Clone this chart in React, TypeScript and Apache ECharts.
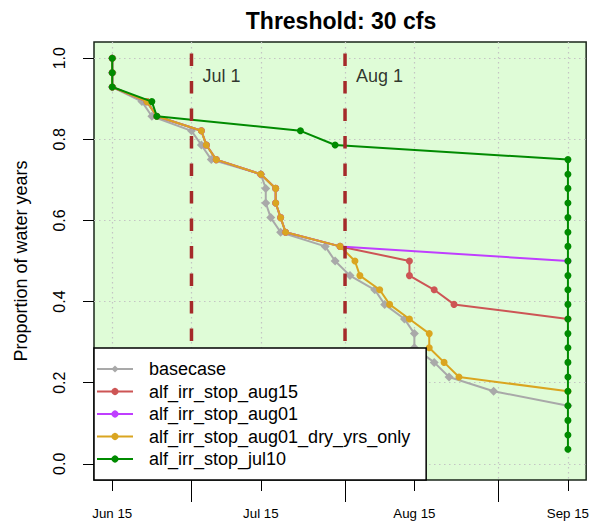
import React, { useEffect, useRef } from "react";
import * as echarts from "echarts";

// ---- data (dates, proportions of 28 water years) ----
const MONTH_START: Record<string, number> = { Jun: -14, Jul: 16, Aug: 47, Sep: 78 };
// days since Jun 15
function dayOf(label: string): number {
  const [m, d] = label.split(" ");
  return MONTH_START[m] + Number(d) - 1;
}

const xLimits = ["Jun 15", "Sep 15"];
const xLabelTicks = ["Jun 15", "Jul 15", "Aug 15", "Sep 15"];
const xMonthTicks = ["Jul 1", "Aug 1", "Sep 1"];
const yTicks = [0, 0.2, 0.4, 0.6, 0.8, 1.0];

const seriesNames = [
  "basecase",
  "alf_irr_stop_aug15",
  "alf_irr_stop_aug01",
  "alf_irr_stop_aug01_dry_yrs_only",
  "alf_irr_stop_jul10",
];
const seriesColors = ["#A9A9A9", "#CD5555", "#BF3EFF", "#DAA520", "#008B00"];
const seriesSymbols = ["diamond", "circle", "circle", "circle", "circle"];

const basecaseDates = ["Jun 15", "Jun 15", "Jun 15", "Jun 21", "Jun 23", "Jul 1", "Jul 3", "Jul 5", "Jul 15", "Jul 16", "Jul 16", "Jul 17", "Jul 19", "Jul 28", "Jul 30", "Aug 2", "Aug 7", "Aug 9", "Aug 13", "Aug 15", "Aug 15", "Aug 19", "Aug 22", "Aug 31", "Sep 15"];
const basecaseProp = [1.0, 0.964, 0.929, 0.893, 0.857, 0.821, 0.786, 0.75, 0.714, 0.679, 0.643, 0.607, 0.571, 0.536, 0.5, 0.464, 0.429, 0.393, 0.357, 0.321, 0.286, 0.25, 0.214, 0.179, 0.143];

const aug15Dates = ["Jun 15", "Jun 15", "Jun 15", "Jun 22", "Jun 24", "Jul 3", "Jul 4", "Jul 6", "Jul 15", "Jul 18", "Jul 18", "Jul 19", "Jul 20", "Jul 31", "Aug 14", "Aug 14", "Aug 19", "Aug 23", "Sep 15"];
const aug15Prop = [1.0, 0.964, 0.929, 0.893, 0.857, 0.821, 0.786, 0.75, 0.714, 0.679, 0.643, 0.607, 0.571, 0.536, 0.5, 0.464, 0.429, 0.393, 0.357];

const aug01Dates = ["Jun 15", "Jun 15", "Jun 15", "Jun 22", "Jun 24", "Jul 3", "Jul 4", "Jul 6", "Jul 15", "Jul 18", "Jul 18", "Jul 19", "Jul 20", "Jul 31", "Sep 15"];
const aug01Prop = [1.0, 0.964, 0.929, 0.893, 0.857, 0.821, 0.786, 0.75, 0.714, 0.679, 0.643, 0.607, 0.571, 0.536, 0.5];

const dryDates = ["Jun 15", "Jun 15", "Jun 15", "Jun 22", "Jun 24", "Jul 3", "Jul 4", "Jul 6", "Jul 15", "Jul 18", "Jul 18", "Jul 19", "Jul 20", "Jul 31", "Aug 3", "Aug 4", "Aug 8", "Aug 10", "Aug 14", "Aug 18", "Aug 18", "Aug 21", "Aug 24", "Sep 15"];
const dryProp = [1.0, 0.964, 0.929, 0.893, 0.857, 0.821, 0.786, 0.75, 0.714, 0.679, 0.643, 0.607, 0.571, 0.536, 0.5, 0.464, 0.429, 0.393, 0.357, 0.321, 0.286, 0.25, 0.214, 0.179];

const jul10Dates = ["Jun 15", "Jun 15", "Jun 15", "Jun 23", "Jun 24", "Jul 23", "Jul 30", "Sep 15", "Sep 15", "Sep 15", "Sep 15", "Sep 15", "Sep 15", "Sep 15", "Sep 15", "Sep 15", "Sep 15", "Sep 15", "Sep 15", "Sep 15", "Sep 15", "Sep 15", "Sep 15", "Sep 15", "Sep 15", "Sep 15", "Sep 15", "Sep 15"];
const jul10Prop = [1.0, 0.964, 0.929, 0.893, 0.857, 0.821, 0.786, 0.75, 0.714, 0.679, 0.643, 0.607, 0.571, 0.536, 0.5, 0.464, 0.429, 0.393, 0.357, 0.321, 0.286, 0.25, 0.214, 0.179, 0.143, 0.107, 0.071, 0.036];

const markerDates = ["Jul 1", "Aug 1"];
const markerLabels = ["Jul 1", "Aug 1"];
const markerLabelY = 0.955;

const allDates = [basecaseDates, aug15Dates, aug01Dates, dryDates, jul10Dates];
const allProps = [basecaseProp, aug15Prop, aug01Prop, dryProp, jul10Prop];

const FONT = "'Liberation Sans', Arial, Helvetica, sans-serif";

export default function App() {
  const ref = useRef<HTMLDivElement>(null);

  useEffect(() => {
    if (!ref.current) return;
    const chart = echarts.init(ref.current, undefined, { renderer: "svg" });

    const lo = dayOf(xLimits[0]);
    const hi = dayOf(xLimits[1]);
    const pad = (hi - lo) * 0.04;
    const xMin = lo - pad;
    const xMax = hi + pad;
    const labelDays = xLabelTicks.map(dayOf);
    const monthDays = xMonthTicks.map(dayOf);
    const gridDays = [...labelDays, ...monthDays].sort((a, b) => a - b);

    const dataSeries: any[] = seriesNames.map((name, i) => ({
      name,
      type: "line",
      data: allDates[i].map((d, k) => [dayOf(d), allProps[i][k]]),
      symbol: seriesSymbols[i],
      symbolSize: i === 0 ? 9 : 7,
      showSymbol: true,
      lineStyle: { color: seriesColors[i], width: 2 },
      itemStyle: { color: seriesColors[i] },
      z: 2 + i,
    }));

    const dashSeries: any[] = markerDates.map((d) => ({
      type: "line",
      data: [
        [dayOf(d), 1.04],
        [dayOf(d), -0.04],
      ],
      symbol: "none",
      silent: true,
      lineStyle: { color: "#A52A2A", width: 3.5, type: [12.5, 15], dashOffset: 16 },
      z: 10,
    }));

    const labelSeries = {
      type: "scatter",
      data: markerDates.map((d, i) => [dayOf(d), markerLabelY, markerLabels[i]]),
      symbolSize: 0,
      silent: true,
      label: {
        show: true,
        position: "right",
        distance: 11,
        formatter: (p: any) => p.data[2],
        color: "#000",
        fontSize: 18,
        fontFamily: FONT,
      },
      z: 11,
    };

    const option: any = {
      animation: false,
      textStyle: { fontFamily: FONT },
      graphic: [
        {
          type: "text",
          x: 341,
          y: 21,
          style: {
            text: "Threshold: 30 cfs",
            fontSize: 23,
            fontWeight: "bold",
            fontFamily: FONT,
            fill: "#000",
            align: "center",
            verticalAlign: "middle",
          },
        },
      ],
      grid: {
        left: 94,
        right: 5,
        top: 42,
        bottom: 45,
        show: true,
        backgroundColor: "#dffcd7",
        borderColor: "#1a261a",
        borderWidth: 1.5,
      },
      legend: {
        data: seriesNames,
        orient: "vertical",
        left: 94,
        top: 348,
        padding: [12, 16, 12, 2],
        itemWidth: 36,
        itemHeight: 9,
        itemGap: 4.5,
        selectedMode: false,
        backgroundColor: "#ffffff",
        borderColor: "#000000",
        borderWidth: 1.5,
        borderRadius: 0,
        textStyle: {
          fontSize: 18,
          lineHeight: 18,
          color: "#000",
          fontFamily: FONT,
          padding: [0, 0, 0, 11],
        },
        z: 20,
      },
      xAxis: [
        {
          type: "value",
          position: "bottom",
          min: xMin,
          max: xMax,
          axisLine: { show: false, onZero: false },
          axisTick: { show: true, customValues: labelDays, length: 11, lineStyle: { color: "#000", width: 1 } },
          axisLabel: {
            show: true,
            customValues: labelDays,
            formatter: (v: number) => xLabelTicks[labelDays.indexOf(v)] ?? "",
            fontSize: 13.3,
            color: "#000",
            margin: 27,
            fontFamily: FONT,
          },
          splitLine: { show: false },
        },
        {
          type: "value",
          position: "bottom",
          min: xMin,
          max: xMax,
          axisLine: { show: false, onZero: false },
          axisTick: { show: true, customValues: monthDays, length: 22, lineStyle: { color: "#000", width: 1 } },
          axisLabel: { show: false },
          splitLine: { show: false },
        },
        {
          type: "value",
          position: "bottom",
          min: xMin,
          max: xMax,
          axisLine: { show: false, onZero: false },
          axisTick: { show: false, customValues: gridDays },
          axisLabel: { show: false },
          splitLine: { show: true, lineStyle: { color: "#c4c4c4", width: 1.2, type: [1.5, 3.5] } },
        },
      ],
      yAxis: {
        type: "value",
        min: -0.04,
        max: 1.04,
        name: "Proportion of water years",
        nameLocation: "middle",
        nameGap: 64,
        nameTextStyle: { fontSize: 18, color: "#000", fontFamily: FONT },
        axisLine: { show: false, onZero: false },
        axisTick: { show: true, customValues: yTicks, length: 11, lineStyle: { color: "#000", width: 1 } },
        axisLabel: {
          show: true,
          customValues: yTicks,
          rotate: 90,
          formatter: (v: number) => v.toFixed(1),
          fontSize: 16,
          color: "#000",
          margin: 27,
          fontFamily: FONT,
        },
        splitLine: { show: true, lineStyle: { color: "#c4c4c4", width: 1.2, type: [1.5, 3.5] } },
      },
      series: [...dataSeries, ...dashSeries, labelSeries],
    };

    chart.setOption(option);
    return () => chart.dispose();
  }, []);

  return (
    <div
      ref={ref}
      style={{ position: "fixed", left: 0, top: 0, width: 592, height: 525, background: "#fff" }}
    />
  );
}
